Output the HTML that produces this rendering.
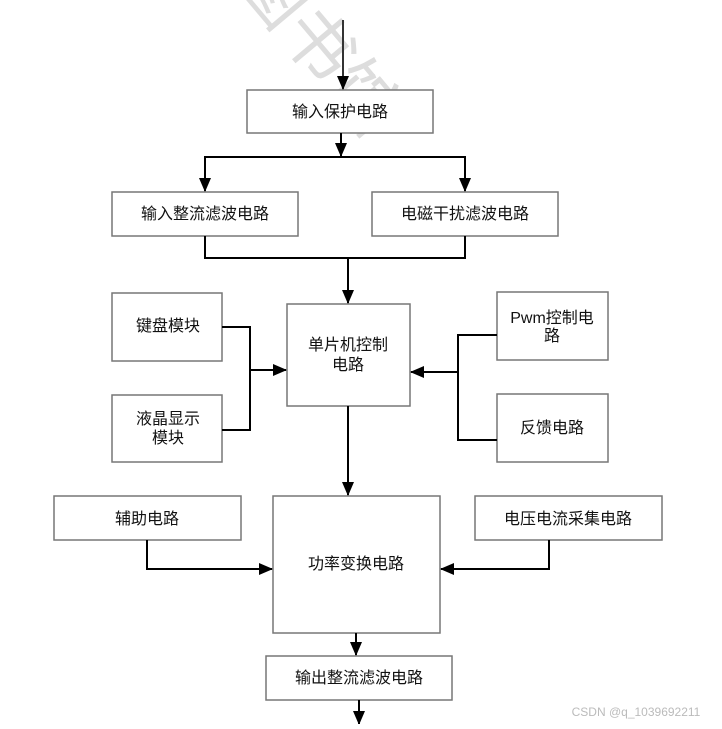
<!DOCTYPE html>
<html><head><meta charset="utf-8"><style>
body{margin:0;background:#fff;}
svg text{font-family:"Liberation Sans","Noto Sans CJK SC",sans-serif;font-size:16px;fill:#111;text-anchor:middle;}
</style></head><body>
<svg width="722" height="724" viewBox="0 0 722 724" xmlns="http://www.w3.org/2000/svg">
<defs><marker id="a" markerWidth="10" markerHeight="10" refX="9" refY="5" orient="auto" markerUnits="userSpaceOnUse"><path d="M0,0 L10,5 L0,10 Z" fill="#000"/></marker>
<marker id="b" markerWidth="14" markerHeight="12" refX="13" refY="6" orient="auto" markerUnits="userSpaceOnUse"><path d="M0,0 L14,6 L0,12 Z" fill="#000"/></marker></defs>
<text x="300" y="60" transform="rotate(50 300 60)" style="font-size:70px;fill:#ddd">图书馆</text>
<g fill="#fff" stroke="#777" stroke-width="1.5">
<rect x="247" y="90" width="186" height="43"/>
<rect x="112" y="192" width="186" height="44"/>
<rect x="372" y="192" width="186" height="44"/>
<rect x="287" y="304" width="123" height="102"/>
<rect x="112" y="293" width="110" height="68"/>
<rect x="112" y="395" width="110" height="67"/>
<rect x="497" y="292" width="111" height="68"/>
<rect x="497" y="394" width="111" height="68"/>
<rect x="273" y="496" width="167" height="137"/>
<rect x="54" y="496" width="187" height="44"/>
<rect x="475" y="496" width="187" height="44"/>
<rect x="266" y="656" width="186" height="44"/>
</g>
<g fill="none" stroke="#000" stroke-width="2">
<line x1="343" y1="20" x2="343" y2="89" stroke="#333" marker-end="url(#b)"/>
<line x1="341" y1="133" x2="341" y2="156" marker-end="url(#b)"/>
<polyline points="205,191 205,157 465,157 465,191" marker-end="url(#b)"/>
<line x1="205" y1="157" x2="205" y2="191" marker-end="url(#b)"/>
<polyline points="205,236 205,258 465,258 465,236"/>
<line x1="348" y1="258" x2="348" y2="303" marker-end="url(#b)"/>
<polyline points="222,327 250,327 250,430 222,430"/>
<line x1="250" y1="370" x2="286" y2="370" marker-end="url(#b)"/>
<polyline points="497,335 458,335 458,440 497,440"/>
<line x1="458" y1="372" x2="411" y2="372" marker-end="url(#b)"/>
<line x1="348" y1="406" x2="348" y2="495" marker-end="url(#b)"/>
<polyline points="147,540 147,569 272,569" marker-end="url(#b)"/>
<polyline points="549,540 549,569 441,569" marker-end="url(#b)"/>
<line x1="356" y1="633" x2="356" y2="655" marker-end="url(#b)"/>
<line x1="359" y1="700" x2="359" y2="724" marker-end="url(#b)"/>
</g>
<text x="340" y="117">输入保护电路</text>
<text x="205" y="219">输入整流滤波电路</text>
<text x="465" y="219">电磁干扰滤波电路</text>
<text x="348" y="350">单片机控制</text>
<text x="348" y="370">电路</text>
<text x="168" y="331">键盘模块</text>
<text x="168" y="424">液晶显示</text>
<text x="168" y="443">模块</text>
<text x="552" y="323">Pwm控制电</text>
<text x="552" y="341">路</text>
<text x="552" y="433">反馈电路</text>
<text x="147" y="524">辅助电路</text>
<text x="568" y="524">电压电流采集电路</text>
<text x="356" y="569">功率变换电路</text>
<text x="359" y="683">输出整流滤波电路</text>
<text x="636" y="716" style="font-size:12px;fill:#bbb">CSDN @q_1039692211</text>
</svg>
</body></html>
